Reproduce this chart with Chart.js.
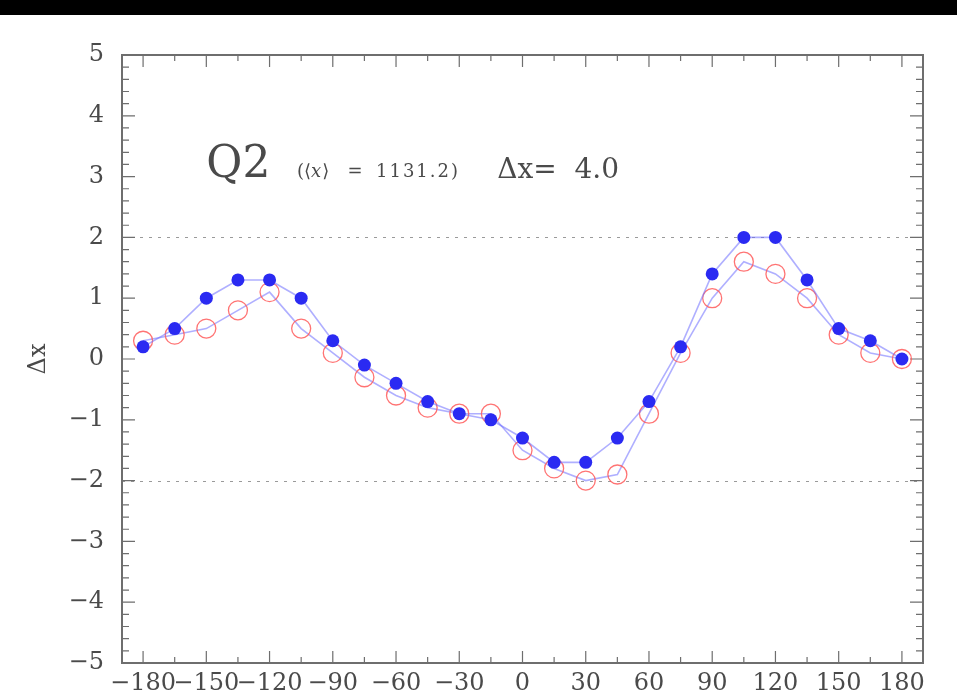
<!DOCTYPE html>
<html>
<head>
<meta charset="utf-8">
<script src="https://cdn.jsdelivr.net/npm/chart.js@4/dist/chart.umd.min.js"></script>
<style>
  html, body { margin: 0; padding: 0; background: #fff; }
  canvas { display: block; }
</style>
</head>
<body>
<canvas id="c" width="957" height="699"></canvas>
<script>
// Angle grid (degrees) and the two Δx series
const angles   = [-180,-165,-150,-135,-120,-105,-90,-75,-60,-45,-30,-15,0,15,30,45,60,75,90,105,120,135,150,165,180];
const dxFilled = [0.2,0.5,1.0,1.3,1.3,1.0,0.3,-0.1,-0.4,-0.7,-0.9,-1.0,-1.3,-1.7,-1.7,-1.3,-0.7,0.2,1.4,2.0,2.0,1.3,0.5,0.3,0.0];
const dxOpen   = [0.3,0.4,0.5,0.8,1.1,0.5,0.1,-0.3,-0.6,-0.8,-0.9,-0.9,-1.5,-1.8,-2.0,-1.9,-0.9,0.1,1.0,1.6,1.4,1.0,0.4,0.1,0.0];

// Axis tick labels
const xTickValues = [-180,-150,-120,-90,-60,-30,0,30,60,90,120,150,180];
const yTickValues = [-5,-4,-3,-2,-1,0,1,2,3,4,5];
const refLines    = [-2, 2];

const fmt = v => (v < 0 ? '\u2212' + Math.abs(v) : String(v));
const AXIS_GRAY = '#6e6e6e';
const TEXT_GRAY = '#4a4a4a';

const toPoints = ys => angles.map((a, i) => ({ x: a, y: ys[i] }));

// Frame, inward ticks on all four sides, dashed reference lines, black top band
const framePlugin = {
  id: 'frame',
  beforeDraw(chart) {
    const ctx = chart.ctx;
    ctx.save();
    ctx.fillStyle = '#fff';
    ctx.fillRect(0, 0, chart.width, chart.height);
    ctx.fillStyle = '#000';
    ctx.fillRect(0, 0, chart.width, 15);
    ctx.restore();
  },
  beforeDatasetsDraw(chart) {
    const { ctx, chartArea: a, scales: { x, y } } = chart;
    ctx.save();
    // dashed reference lines
    ctx.strokeStyle = '#9a9a9a';
    ctx.lineWidth = 1;
    ctx.setLineDash([3, 6]);
    refLines.forEach(v => {
      const py = Math.round(y.getPixelForValue(v)) + 0.5;
      ctx.beginPath();
      ctx.moveTo(a.left, py);
      ctx.lineTo(a.right, py);
      ctx.stroke();
    });
    ctx.setLineDash([]);

    ctx.strokeStyle = AXIS_GRAY;
    ctx.lineWidth = 1.2;
    ctx.beginPath();
    // x ticks (major every 30, minor every 15)
    for (let v = -180; v <= 180; v += 15) {
      const px = x.getPixelForValue(v);
      const len = (v % 30 === 0) ? 12 : 6;
      ctx.moveTo(px, a.bottom); ctx.lineTo(px, a.bottom - len);
      ctx.moveTo(px, a.top);    ctx.lineTo(px, a.top + len);
    }
    // y ticks (major every 1, minor every 0.2)
    for (let k = -25; k <= 25; k++) {
      const v = k / 5;
      const py = y.getPixelForValue(v);
      const len = (k % 5 === 0) ? 13 : 7;
      ctx.moveTo(a.left, py);  ctx.lineTo(a.left + len, py);
      ctx.moveTo(a.right, py); ctx.lineTo(a.right - len, py);
    }
    ctx.stroke();

    // frame
    ctx.lineWidth = 2;
    ctx.strokeRect(a.left, a.top, a.right - a.left, a.bottom - a.top);
    ctx.restore();
  },
  afterDraw(chart) {
    const { ctx, scales: { x, y } } = chart;
    ctx.save();
    ctx.fillStyle = TEXT_GRAY;
    ctx.textBaseline = 'alphabetic';
    ctx.textAlign = 'left';
    const by = y.getPixelForValue(3.0);

    ctx.font = '44px "DejaVu Serif"';
    ctx.fillText('Q2', x.getPixelForValue(-150), by);

    // mean value annotation
    let px = x.getPixelForValue(-107);
    ctx.font = '18px "DejaVu Serif"';
    ctx.fillText('(\u27E8', px, by);
    px += ctx.measureText('(\u27E8').width;
    ctx.font = 'italic 18px "DejaVu Serif"';
    ctx.fillText('x', px, by);
    px += ctx.measureText('x').width + 1;
    ctx.font = '18px "DejaVu Serif"';
    ctx.fillText('\u27E9', px, by);
    ctx.fillText('=', x.getPixelForValue(-83), by);
    ctx.letterSpacing = '2px';
    ctx.fillText('1131.2)', x.getPixelForValue(-69.5), by);
    ctx.letterSpacing = '0px';

    ctx.font = '28px "DejaVu Serif"';
    ctx.fillText('\u0394x=  4.0', x.getPixelForValue(-12), y.getPixelForValue(2.97));
    ctx.restore();
  }
};

new Chart(document.getElementById('c'), {
  type: 'scatter',
  data: {
    datasets: [
      {
        label: 'filled',
        data: toPoints(dxFilled),
        showLine: true,
        borderColor: 'rgba(110,110,255,0.55)',
        borderWidth: 1.6,
        pointRadius: 6.5,
        pointBackgroundColor: '#2a2af2',
        pointBorderColor: '#2a2af2',
        pointBorderWidth: 0
      },
      {
        label: 'open',
        data: toPoints(dxOpen),
        showLine: true,
        borderColor: 'rgba(110,110,255,0.55)',
        borderWidth: 1.6,
        pointRadius: 9.5,
        pointBackgroundColor: 'rgba(0,0,0,0)',
        pointBorderColor: 'rgba(255,90,90,0.85)',
        pointBorderWidth: 1.3
      }
    ]
  },
  options: {
    responsive: false,
    animation: false,
    layout: { padding: { left: 0, top: 55, right: 34, bottom: 0 } },
    plugins: { legend: { display: false }, tooltip: { enabled: false } },
    elements: { line: { tension: 0 } },
    scales: {
      x: {
        type: 'linear',
        min: -190,
        max: 190,
        afterBuildTicks: s => { s.ticks = xTickValues.map(v => ({ value: v })); },
        afterFit: s => { s.height = 36; },
        grid: { display: false, drawTicks: false },
        border: { display: false },
        ticks: {
          callback: v => fmt(v),
          color: TEXT_GRAY,
          font: { family: '"DejaVu Serif"', size: 24 },
          padding: 6,
          maxRotation: 0,
          autoSkip: false
        }
      },
      y: {
        type: 'linear',
        min: -5,
        max: 5,
        afterBuildTicks: s => { s.ticks = yTickValues.map(v => ({ value: v })); },
        afterFit: s => { s.width = 122; },
        grid: { display: false, drawTicks: false },
        border: { display: false },
        title: {
          display: true,
          text: '\u0394x',
          color: TEXT_GRAY,
          font: { family: '"DejaVu Serif"', size: 24 },
          padding: { top: 24 }
        },
        ticks: {
          callback: v => fmt(v),
          color: TEXT_GRAY,
          font: { family: '"DejaVu Serif"', size: 24 },
          padding: 18,
          autoSkip: false
        }
      }
    }
  },
  plugins: [framePlugin]
});
</script>
</body>
</html>
